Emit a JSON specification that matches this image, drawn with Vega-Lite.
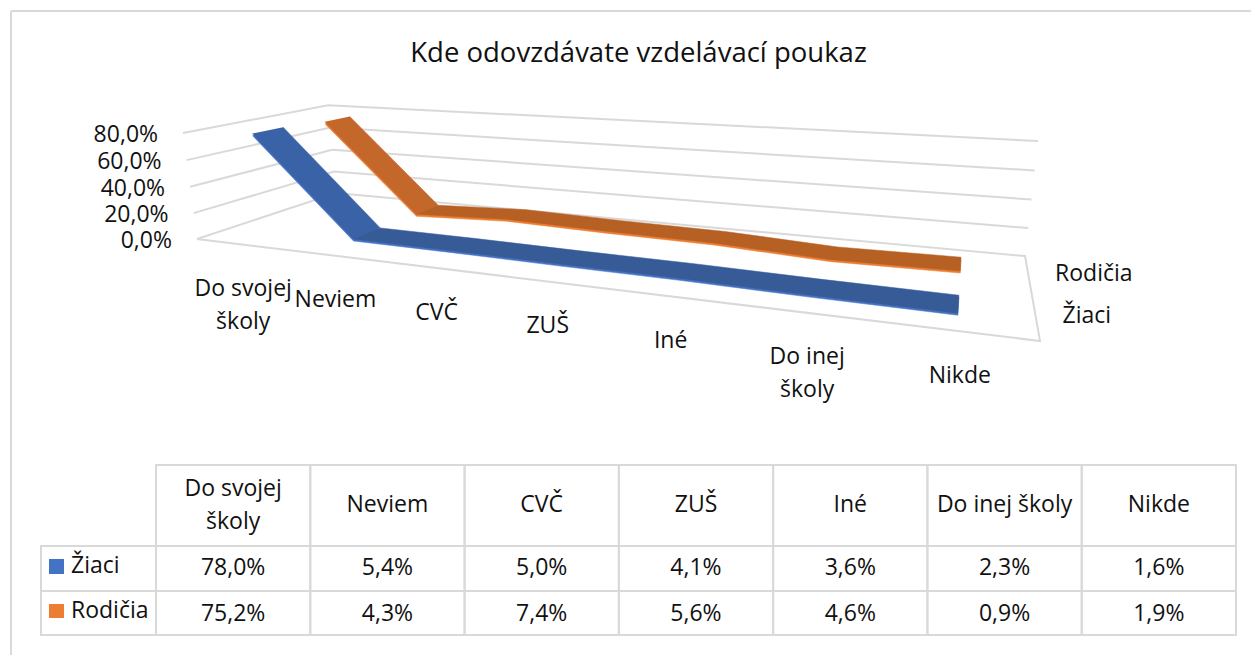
{
"$schema":"https://vega.github.io/schema/vega-lite/v6.json",
"width":1251,"height":655,"padding":0,"autosize":{"type":"none"},"background":"white",
"title":{"text":"Kde odovzdávate vzdelávací poukaz","anchor":"middle","frame":"group","offset":0,"dy":81,"dx":13,"baseline":"middle","font":"Open Sans","fontSize":27.5,"fontWeight":"normal","color":"#111111"},
"config":{"view":{"stroke":null},"text":{"font":"Open Sans","fontSize":23,"color":"#111111"}},
"datasets":{
"grid":[{"tick":0},{"tick":20},{"tick":40},{"tick":60},{"tick":80}],
"series":[{"series":"Žiaci"},{"series":"Rodičia"}]
},
"data":{"values":[
{"category":"Do svojej školy","series":"Žiaci","value":78.0},
{"category":"Neviem","series":"Žiaci","value":5.4},
{"category":"CVČ","series":"Žiaci","value":5.0},
{"category":"ZUŠ","series":"Žiaci","value":4.1},
{"category":"Iné","series":"Žiaci","value":3.6},
{"category":"Do inej školy","series":"Žiaci","value":2.3},
{"category":"Nikde","series":"Žiaci","value":1.6},
{"category":"Do svojej školy","series":"Rodičia","value":75.2},
{"category":"Neviem","series":"Rodičia","value":4.3},
{"category":"CVČ","series":"Rodičia","value":7.4},
{"category":"ZUŠ","series":"Rodičia","value":5.6},
{"category":"Iné","series":"Rodičia","value":4.6},
{"category":"Do inej školy","series":"Rodičia","value":0.9},
{"category":"Nikde","series":"Rodičia","value":1.9}
]},
"transform":[
{"calculate":"indexof(['Do svojej školy','Neviem','CVČ','ZUŠ','Iné','Do inej školy','Nikde'],datum.category)","as":"i"},
{"calculate":"[0,1]","as":"edge"},
{"flatten":["edge"]},
{"calculate":"(datum.i+0.5)/7","as":"u"},
{"calculate":"(datum.series=='Žiaci'?0.25:0.75)+(datum.edge?0.1:-0.1)","as":"w"},
{"calculate":"datum.value/80","as":"v"},
{"calculate":"1-0.298*datum.u+0.217*datum.w-0.0303*datum.v","as":"den"},
{"calculate":"(533.1*datum.u+211.9*datum.w+197-19.5*datum.v)/datum.den","as":"px"},
{"calculate":"(0.4*datum.u-4.1*datum.w+239-110*datum.v)/datum.den","as":"py"},
{"calculate":"datum.edge?100-datum.i:datum.i","as":"ord"},
{"calculate":"replace(format(datum.value,'.1f'),'.',',')+'%'","as":"pct"}
],
"encoding":{
"x":{"field":"px","type":"quantitative","axis":null,"scale":{"domain":[0,1251],"range":[0,1251],"nice":false,"zero":false}},
"y":{"field":"py","type":"quantitative","axis":null,"scale":{"domain":[0,655],"range":[0,655],"nice":false,"zero":false}}
},
"layer":[
{"data":{"values":[{"side":"top"},{"side":"left"}]},
 "transform":[{"calculate":"11","as":"px"},{"calculate":"11","as":"py"},
 {"calculate":"datum.side=='top'?1251:11","as":"px2"},{"calculate":"datum.side=='top'?11:655","as":"py2"}],
 "mark":{"type":"rule","stroke":"#d9d9d9","strokeWidth":2},
 "encoding":{"x2":{"field":"px2"},"y2":{"field":"py2"}}},
{"data":{"name":"grid"},
 "transform":[
 {"calculate":"[0,1,2,3,4]","as":"p"},{"flatten":["p"]},
 {"filter":"datum.p<=2||datum.tick==0"},
 {"calculate":"datum.p==0||datum.p==1||datum.p==4?0:1","as":"u"},
 {"calculate":"datum.p==1||datum.p==2?1:0","as":"w"},
 {"calculate":"datum.tick/80","as":"v"},
 {"calculate":"1-0.298*datum.u+0.217*datum.w-0.0303*datum.v","as":"den"},
 {"calculate":"(533.1*datum.u+211.9*datum.w+197-19.5*datum.v)/datum.den","as":"px"},
 {"calculate":"(0.4*datum.u-4.1*datum.w+239-110*datum.v)/datum.den","as":"py"}],
 "mark":{"type":"line","stroke":"#d9d9d9","strokeWidth":2},
 "encoding":{"detail":{"field":"tick"},"order":{"field":"p"}}},
{"data":{"name":"grid"},
 "transform":[
 {"calculate":"datum.tick/80","as":"v"},
 {"calculate":"1-0.0303*datum.v","as":"den"},
 {"calculate":"(197-19.5*datum.v)/datum.den","as":"px"},
 {"calculate":"(239-110*datum.v)/datum.den","as":"py"},
 {"calculate":"replace(format(datum.tick,'.1f'),'.',',')+'%'","as":"lab"}],
 "mark":{"type":"text","align":"right","baseline":"middle","dx":-25,"dy":2},
 "encoding":{"text":{"field":"lab"}}},
{"transform":[{"filter":"datum.series=='Rodičia'"}],"mark":{"type":"line","fill":"#ED7D31","stroke":"#ED7D31","strokeWidth":0.5,"yOffset":2},"encoding":{"order":{"field":"ord"}}},
{"transform":[{"filter":"datum.series=='Rodičia'&&datum.i<=1"}],"mark":{"type":"line","fill":"#C4672A","stroke":"#C4672A","strokeWidth":0.5},"encoding":{"order":{"field":"ord"}}},
{"transform":[{"filter":"datum.series=='Rodičia'&&datum.i>=1"}],"mark":{"type":"line","fill":"#B66024","stroke":"#B66024","strokeWidth":0.5},"encoding":{"order":{"field":"ord"}}},
{"transform":[{"filter":"datum.series=='Žiaci'"}],"mark":{"type":"line","fill":"#4472C4","stroke":"#4472C4","strokeWidth":0.5,"yOffset":2},"encoding":{"order":{"field":"ord"}}},
{"transform":[{"filter":"datum.series=='Žiaci'&&datum.i<=1"}],"mark":{"type":"line","fill":"#3A63A7","stroke":"#3A63A7","strokeWidth":0.5},"encoding":{"order":{"field":"ord"}}},
{"transform":[{"filter":"datum.series=='Žiaci'&&datum.i>=1"}],"mark":{"type":"line","fill":"#365B97","stroke":"#365B97","strokeWidth":0.5},"encoding":{"order":{"field":"ord"}}},
{"transform":[{"filter":"datum.series=='Žiaci'&&datum.edge==0"},
 {"calculate":"1-0.298*datum.u","as":"den"},
 {"calculate":"(533.1*datum.u+197)/datum.den","as":"px"},
 {"calculate":"(0.4*datum.u+239)/datum.den","as":"py"},
 {"calculate":"replace(datum.category,' školy','\\nškoly')","as":"lab"}],
 "mark":{"type":"text","align":"center","baseline":"top","dx":3,"dy":34,"lineBreak":"\n","lineHeight":33},
 "encoding":{"text":{"field":"lab"}}},
{"data":{"name":"series"},
 "transform":[
 {"calculate":"datum.series=='Žiaci'?0.25:0.75","as":"w"},
 {"calculate":"0.702+0.217*datum.w","as":"den"},
 {"calculate":"(730.1+211.9*datum.w)/datum.den","as":"px"},
 {"calculate":"(239.4-4.1*datum.w)/datum.den","as":"py"}],
 "mark":{"type":"text","align":"left","baseline":"middle","dx":27,"dy":1},
 "encoding":{"text":{"field":"series"}}},
{"transform":[{"filter":"datum.edge==0"},
 {"calculate":"156+154.286*datum.i","as":"px"},{"calculate":"156+154.286*(datum.i+1)","as":"px2"},
 {"calculate":"datum.series=='Žiaci'?546:591","as":"py"},{"calculate":"datum.series=='Žiaci'?591:635","as":"py2"}],
 "mark":{"type":"rect","fill":null,"stroke":"#d9d9d9","strokeWidth":2},
 "encoding":{"x2":{"field":"px2"},"y2":{"field":"py2"}}},
{"transform":[{"filter":"datum.edge==0&&datum.series=='Žiaci'"},
 {"calculate":"156+154.286*datum.i","as":"px"},{"calculate":"156+154.286*(datum.i+1)","as":"px2"},
 {"calculate":"465","as":"py"},{"calculate":"546","as":"py2"}],
 "mark":{"type":"rect","fill":null,"stroke":"#d9d9d9","strokeWidth":2},
 "encoding":{"x2":{"field":"px2"},"y2":{"field":"py2"}}},
{"data":{"name":"series"},
 "transform":[{"calculate":"41","as":"px"},{"calculate":"156","as":"px2"},
 {"calculate":"datum.series=='Žiaci'?546:591","as":"py"},{"calculate":"datum.series=='Žiaci'?591:635","as":"py2"}],
 "mark":{"type":"rect","fill":null,"stroke":"#d9d9d9","strokeWidth":2},
 "encoding":{"x2":{"field":"px2"},"y2":{"field":"py2"}}},
{"data":{"name":"series"},
 "transform":[{"calculate":"49","as":"px"},{"calculate":"64","as":"px2"},
 {"calculate":"datum.series=='Žiaci'?559:604","as":"py"},{"calculate":"datum.series=='Žiaci'?574:618","as":"py2"}],
 "mark":{"type":"rect"},
 "encoding":{"x2":{"field":"px2"},"y2":{"field":"py2"},"fill":{"field":"series","legend":null,"scale":{"domain":["Žiaci","Rodičia"],"range":["#4472C4","#ED7D31"]}}}},
{"data":{"name":"series"},
 "transform":[{"calculate":"71","as":"px"},{"calculate":"datum.series=='Žiaci'?566:611","as":"py"}],
 "mark":{"type":"text","align":"left","baseline":"middle"},
 "encoding":{"text":{"field":"series"}}},
{"transform":[{"filter":"datum.edge==0&&datum.series=='Žiaci'"},
 {"calculate":"156+154.286*(datum.i+0.5)","as":"px"},{"calculate":"datum.category=='Do svojej školy'?489:505","as":"py"},
 {"calculate":"datum.category=='Do svojej školy'?'Do svojej\\nškoly':datum.category","as":"lab"}],
 "mark":{"type":"text","align":"center","baseline":"middle","lineBreak":"\n","lineHeight":33},
 "encoding":{"text":{"field":"lab"}}},
{"transform":[{"filter":"datum.edge==0"},
 {"calculate":"156+154.286*(datum.i+0.5)","as":"px"},{"calculate":"datum.series=='Žiaci'?568:614","as":"py"}],
 "mark":{"type":"text","align":"center","baseline":"middle"},
 "encoding":{"text":{"field":"pct"}}}
]
}
